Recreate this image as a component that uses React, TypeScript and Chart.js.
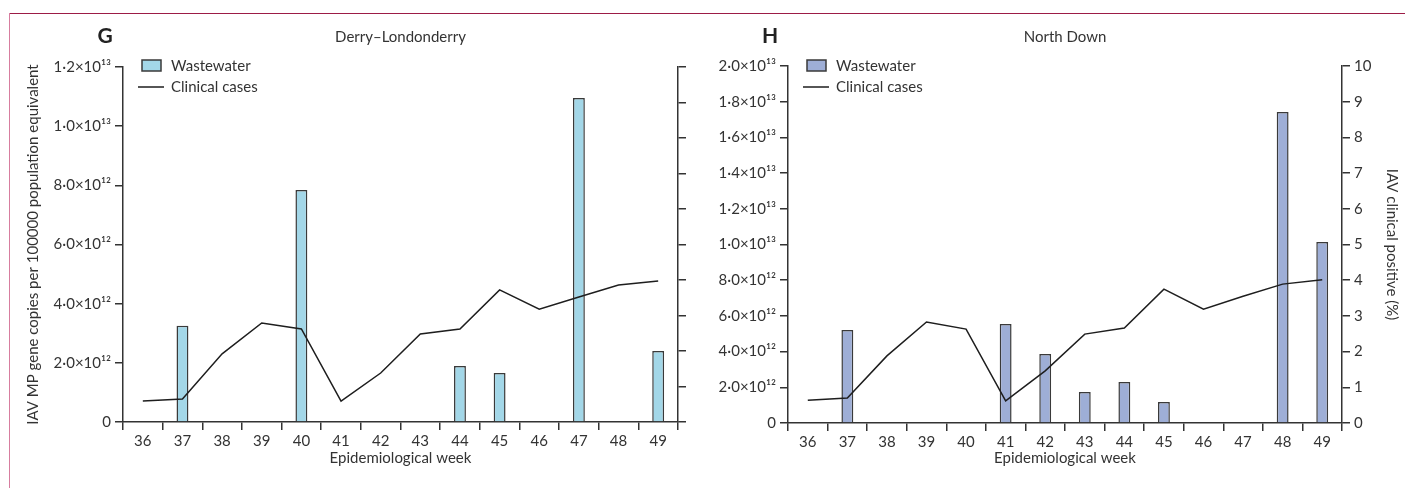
import React, { useEffect, useRef } from "react";
import { Chart, registerables } from "chart.js";

Chart.register(...registerables);

const weeks = ["36", "37", "38", "39", "40", "41", "42", "43", "44", "45", "46", "47", "48", "49"];

const derryWastewater = [null, 3.25e12, null, null, 7.84e12, null, null, null, 1.89e12, 1.66e12, null, 10.95e12, null, 2.4e12];
const derryClinical = [0.59, 0.65, 1.92, 2.79, 2.62, 0.59, 1.38, 2.48, 2.62, 3.72, 3.18, 3.52, 3.86, 3.97];

const northDownWastewater = [null, 5.21e12, null, null, null, 5.55e12, 3.87e12, 1.74e12, 2.3e12, 1.18e12, null, null, 17.42e12, 10.14e12];
const northDownClinical = [0.64, 0.7, 1.88, 2.83, 2.63, 0.62, 1.46, 2.49, 2.66, 3.75, 3.19, 3.55, 3.89, 4.01];

const FONT = "Lato, 'Open Sans', 'DejaVu Sans', sans-serif";
const TEXT = "#333333";
const AXIS = "#333333";

const SUP: Record<string, string> = { "0": "⁰", "1": "¹", "2": "²", "3": "³", "4": "⁴", "5": "⁵", "6": "⁶", "7": "⁷", "8": "⁸", "9": "⁹" };

function sci(v: number): string {
  if (v === 0) return "0";
  const e = Math.floor(Math.log10(v) + 1e-9);
  const m = v / Math.pow(10, e);
  return m.toFixed(1).replace(".", "·") + "×10" + String(e).split("").map((c) => SUP[c]).join("");
}

const decorPlugin = {
  id: "decor",
  afterDraw(chart: any, _args: any, opts: any) {
    const { ctx, chartArea } = chart;
    const L = chartArea.left;
    const cx = (chartArea.left + chartArea.right) / 2;
    ctx.save();
    ctx.fillStyle = "#222";
    ctx.font = `bold 21px ${FONT}`;
    ctx.textAlign = "center";
    ctx.textBaseline = "middle";
    ctx.fillText(opts.letter, L - 18, 36);
    ctx.font = `15px ${FONT}`;
    ctx.fillStyle = TEXT;
    ctx.fillText(opts.title, cx, 37);
    // legend
    const ds0 = chart.data.datasets[0];
    const ds1 = chart.data.datasets[1];
    ctx.fillStyle = ds0.backgroundColor;
    ctx.fillRect(L + 19, 60, 19, 11);
    ctx.strokeStyle = ds0.borderColor;
    ctx.lineWidth = 1.5;
    ctx.strokeRect(L + 19, 60, 19, 11);
    ctx.strokeStyle = ds1.borderColor;
    ctx.beginPath();
    ctx.moveTo(L + 15, 87);
    ctx.lineTo(L + 41, 87);
    ctx.stroke();
    ctx.fillStyle = TEXT;
    ctx.textAlign = "left";
    ctx.fillText(ds0.label, L + 48, 66);
    ctx.fillText(ds1.label, L + 48, 87);
    ctx.restore();
  },
};

type PanelProps = {
  letter: string;
  title: string;
  wastewater: (number | null)[];
  clinical: number[];
  fill: string;
  yMax: number;
  width: number;
  leftW: number;
  rightW: number;
  top: number;
  bottomH: number;
  leftTitle: boolean;
  rightLabels: boolean;
};

function Panel(p: PanelProps) {
  const ref = useRef<HTMLCanvasElement>(null);
  useEffect(() => {
    if (!ref.current) return;
    const font = { family: FONT, size: 15 };
    const grid = { drawOnChartArea: false, drawTicks: true, tickLength: 8, color: AXIS, lineWidth: 1.5 };
    const border = { display: true, color: AXIS, width: 1.5 };
    const chart = new Chart(ref.current, {
      type: "bar",
      data: {
        labels: weeks,
        datasets: [
          {
            type: "bar",
            label: "Wastewater",
            data: p.wastewater,
            backgroundColor: p.fill,
            borderColor: "#3a3a3a",
            borderWidth: 1.5,
            barPercentage: 0.3,
            categoryPercentage: 1,
            yAxisID: "y",
            order: 2,
          } as any,
          {
            type: "line",
            label: "Clinical cases",
            data: p.clinical,
            borderColor: "#1e1e1e",
            borderWidth: 1.5,
            pointRadius: 0,
            tension: 0,
            fill: false,
            yAxisID: "y1",
            order: 1,
          } as any,
        ],
      },
      options: {
        animation: false,
        responsive: false,
        layout: { padding: { top: p.top, left: 0, right: 0, bottom: 0 } },
        plugins: {
          legend: { display: false },
          title: { display: false },
          tooltip: { enabled: false },
          decor: { letter: p.letter, title: p.title },
        } as any,
        scales: {
          x: {
            type: "category",
            offset: true,
            grid: { ...grid, offset: true },
            border,
            ticks: { font, color: TEXT, padding: 2, maxRotation: 0, autoSkip: false },
            title: { display: true, text: "Epidemiological week", font, color: TEXT, padding: { top: 0, bottom: 21 } },
            afterFit: (s: any) => {
              s.height = p.bottomH;
            },
          },
          y: {
            position: "left",
            min: 0,
            max: p.yMax,
            grid,
            border,
            ticks: { stepSize: 2e12, font, color: TEXT, padding: 4, callback: (v: any) => sci(Number(v)) },
            title: {
              display: p.leftTitle,
              text: "IAV MP gene copies per 100000 population equivalent",
              font,
              color: TEXT,
              padding: { top: 24, bottom: 0 },
            },
            afterFit: (s: any) => {
              s.width = p.leftW;
            },
          },
          y1: {
            position: "right",
            min: 0,
            max: 10,
            grid,
            border,
            ticks: { display: p.rightLabels, stepSize: 1, font, color: TEXT, padding: 4 },
            title: {
              display: p.rightLabels,
              text: "IAV clinical positive (%)",
              font,
              color: TEXT,
              padding: { top: 4, bottom: 0 },
            },
            afterFit: (s: any) => {
              s.width = p.rightW;
            },
          },
        } as any,
      },
      plugins: [decorPlugin],
    });
    return () => chart.destroy();
  }, []);
  return <canvas ref={ref} width={p.width} height={488} style={{ display: "block" }} />;
}

export default function App() {
  return (
    <div style={{ position: "relative", width: 1405, height: 488, background: "#fff", overflow: "hidden" }}>
      <style>{`body{margin:0;background:#fff;}`}</style>
      <div style={{ position: "absolute", left: 0, top: 0 }}>
        <Panel
          letter="G"
          title="Derry–Londonderry"
          wastewater={derryWastewater}
          clinical={derryClinical}
          fill="#a3d7e8"
          yMax={1.2e13}
          width={700}
          leftW={123}
          rightW={22}
          top={67}
          bottomH={66}
          leftTitle={true}
          rightLabels={false}
        />
      </div>
      <div style={{ position: "absolute", left: 700, top: 0 }}>
        <Panel
          letter="H"
          title="North Down"
          wastewater={northDownWastewater}
          clinical={northDownClinical}
          fill="#9eaed6"
          yMax={2.0e13}
          width={705}
          leftW={88}
          rightW={63}
          top={66}
          bottomH={65}
          leftTitle={false}
          rightLabels={true}
        />
      </div>
      <div style={{ position: "absolute", left: 9, top: 13, width: 1396, height: 1, background: "#9c1c46" }} />
      <div style={{ position: "absolute", left: 9, top: 13, width: 1, height: 475, background: "#d77d9f" }} />
    </div>
  );
}
